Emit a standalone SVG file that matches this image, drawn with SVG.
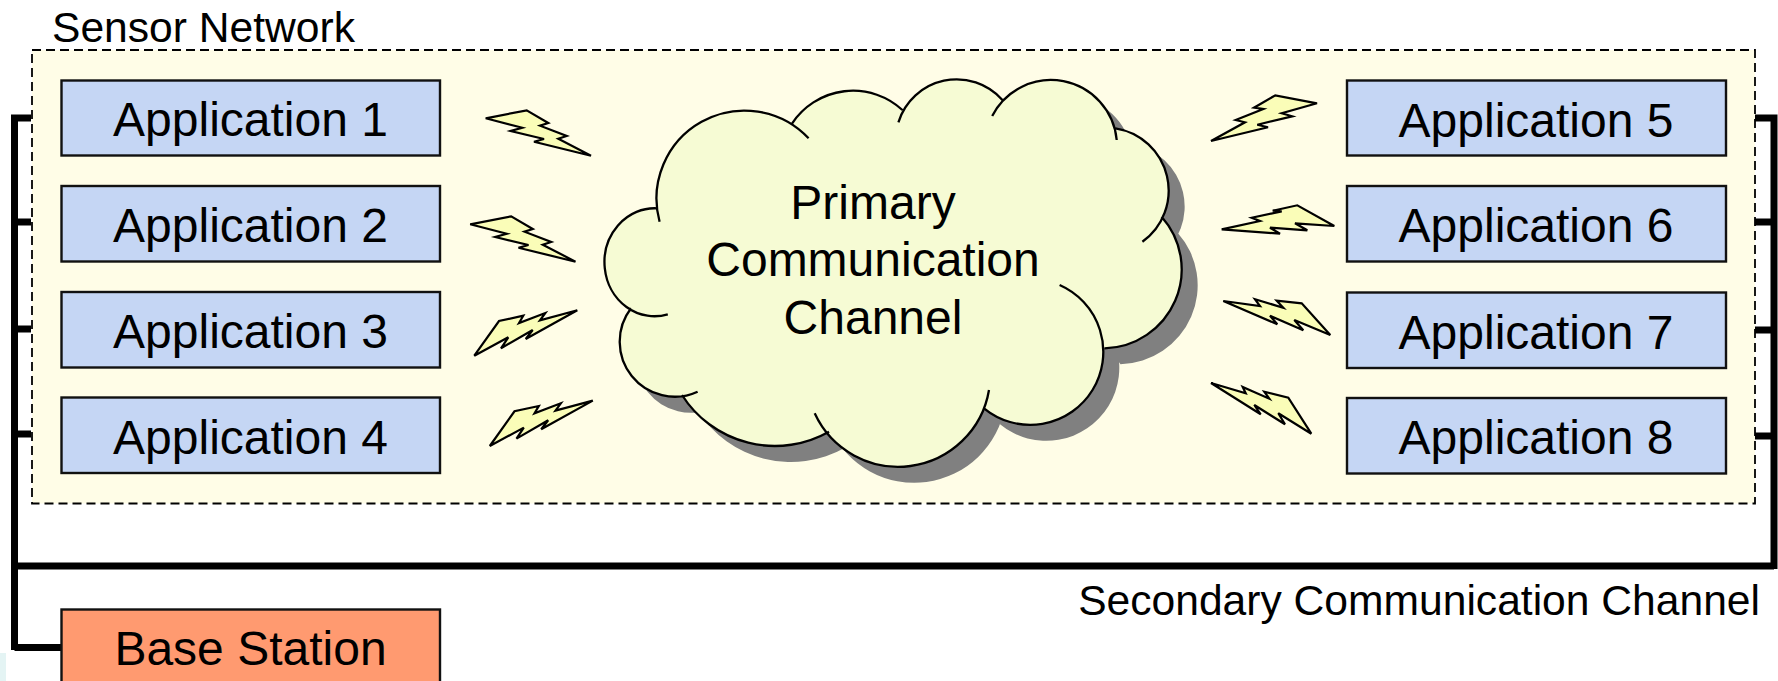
<svg xmlns="http://www.w3.org/2000/svg" xmlns:xlink="http://www.w3.org/1999/xlink" width="1778" height="681" viewBox="0 0 1778 681">
<style>
text{font-family:"Liberation Sans",Arial,sans-serif;fill:#000}
.t{font-size:48px;text-anchor:middle}
.l{font-size:42.6px}
.app{fill:#C5D6F4;stroke:#111;stroke-width:2.4}
.bolt{fill:#FAFDB8;stroke:#000;stroke-width:2.2;stroke-linejoin:miter}
.lobe{fill:none;stroke:#000;stroke-width:2.3}
.wire{fill:none;stroke:#000;stroke-width:7}
</style>
<defs>
<path id="cloudFill" d="M659.6,221.7A88,88 0 0 1 808.6,138.3L792.2,123.3A73,73 0 0 1 902.4,110L898.4,122.3A61,61 0 0 1 1002.4,100L992.2,116A66,66 0 0 1 1116.7,140L1115.5,128.3A63,63 0 0 1 1142.4,241.7L1161.6,216.7A79,79 0 0 1 1104.5,348.3L1059.6,285A73,73 0 1 1 984,408.3L989,390A92,92 0 0 1 814.7,413.3L829,431.7A110,110 0 0 1 682,395L697.6,391.7A55,55 0 0 1 631,308.3L667.8,314.3A50,54 0 1 1 656.7,208.3Z"/>
<polygon id="boltA" points="485.7,118.3 526.7,110.3 548.3,123 540,125.7 566.7,136 558.3,138.7 591,155.7 534,141.7 544,139 510.7,131 522.3,127.7"/>
<polygon id="boltB" points="474.3,355.7 499,321 523.3,315.7 519,323 545.3,313 540,320.3 577.3,310.3 525.7,339 532.7,330 501,348.3 508.3,337.3"/>
</defs>
<rect width="1778" height="681" fill="#fff"/>
<rect x="0" y="653" width="6" height="28" fill="#E4F4F4"/>
<g id="sensor-network">
<rect x="32" y="50" width="1723" height="453.5" fill="#FFFDE7" stroke="#000" stroke-width="1.8" stroke-dasharray="9 5"/>
<text class="l" x="52" y="41.5">Sensor Network</text>
</g>
<g id="connectors">
<path class="wire" d="M31,118H14.500V650"/>
<path class="wire" d="M14.500,647.500H61"/>
<path class="wire" d="M14.500,222H31M14.500,329H31M14.500,434H31"/>
<path class="wire" d="M14.500,566H1774"/>
<path class="wire" d="M1755,118H1774V569"/>
<path class="wire" d="M1755,222H1774M1755,330H1774M1755,436H1774"/>
</g>
<g id="app1"><rect class="app" x="61.500" y="80.500" width="378.500" height="75"/><text class="t" x="250.500" y="136">Application 1</text></g>
<g id="app2"><rect class="app" x="61.500" y="186" width="378.500" height="75.500"/><text class="t" x="250.500" y="242">Application 2</text></g>
<g id="app3"><rect class="app" x="61.500" y="292" width="378.500" height="75.500"/><text class="t" x="250.500" y="348">Application 3</text></g>
<g id="app4"><rect class="app" x="61.500" y="397.500" width="378.500" height="75.500"/><text class="t" x="250.500" y="453.500">Application 4</text></g>
<g id="app5"><rect class="app" x="1347" y="80.500" width="379" height="75"/><text class="t" x="1536" y="136.500">Application 5</text></g>
<g id="app6"><rect class="app" x="1347" y="186" width="379" height="75.500"/><text class="t" x="1536" y="242">Application 6</text></g>
<g id="app7"><rect class="app" x="1347" y="292.500" width="379" height="75.500"/><text class="t" x="1536" y="348.500">Application 7</text></g>
<g id="app8"><rect class="app" x="1347" y="398" width="379" height="75.500"/><text class="t" x="1536" y="454">Application 8</text></g>
<g id="base-station"><rect x="61.500" y="609.500" width="378.500" height="80" fill="#FF9A70" stroke="#111" stroke-width="2.4"/><text class="t" x="250.500" y="665">Base Station</text></g>
<g id="cloud">
<use href="#cloudFill" xlink:href="#cloudFill" transform="translate(16,16)" fill="#808080"/>
<use href="#cloudFill" xlink:href="#cloudFill" fill="#F6FBD4"/>
<path class="lobe" d="M659.6,221.7A88,88 0 0 1 808.6,138.3M792.2,123.3A73,73 0 0 1 902.4,110M898.4,122.3A61,61 0 0 1 1002.4,100M992.2,116A66,66 0 0 1 1116.7,140M1115.5,128.3A63,63 0 0 1 1142.4,241.7M1161.6,216.7A79,79 0 0 1 1104.5,348.3M1059.6,285A73,73 0 1 1 984,408.3M989,390A92,92 0 0 1 814.7,413.3M829,431.7A110,110 0 0 1 682,395M697.6,391.7A55,55 0 0 1 631,308.3M667.8,314.3A50,54 0 1 1 656.7,208.3"/>
<text class="t" x="873" y="219">Primary</text>
<text class="t" x="873" y="276">Communication</text>
<text class="t" x="873" y="334">Channel</text>
</g>
<g id="bolts">
<use href="#boltA" xlink:href="#boltA" class="bolt"/>
<use href="#boltA" xlink:href="#boltA" class="bolt" transform="translate(-15.5,106)"/>
<use href="#boltB" xlink:href="#boltB" class="bolt"/>
<use href="#boltB" xlink:href="#boltB" class="bolt" transform="translate(15.5,90.3)"/>
<polygon class="bolt" points="1211,141 1245,122.3 1235.7,120 1263.3,109 1254,107.7 1275.3,95.3 1317,103.3 1281.7,113.3 1292.3,116.3 1257.3,124.7 1268,127.3"/>
<polygon class="bolt" points="1221.7,229.3 1260,221 1251.7,217.7 1281.7,211.3 1272.7,210.7 1297.3,205.3 1334.3,226 1295,223.3 1307.3,230.3 1270,227.7 1280,233.7"/>
<polygon class="bolt" points="1223.3,301 1260,306 1255,299.3 1283.3,307.7 1276.7,300.7 1301.7,303.3 1330.3,335 1294.3,320 1303.3,330.3 1270,315.7 1277.3,324.3"/>
<polygon class="bolt" points="1211,383 1245.7,393.3 1242.7,387 1269.3,398.7 1264.3,391.7 1288.3,397.7 1311.3,433.7 1278.3,413.3 1285,424.3 1254.3,405 1260.7,414.3"/>
</g>
<text class="l" x="1760" y="614.500" text-anchor="end" id="secondary-label">Secondary Communication Channel</text>
</svg>
